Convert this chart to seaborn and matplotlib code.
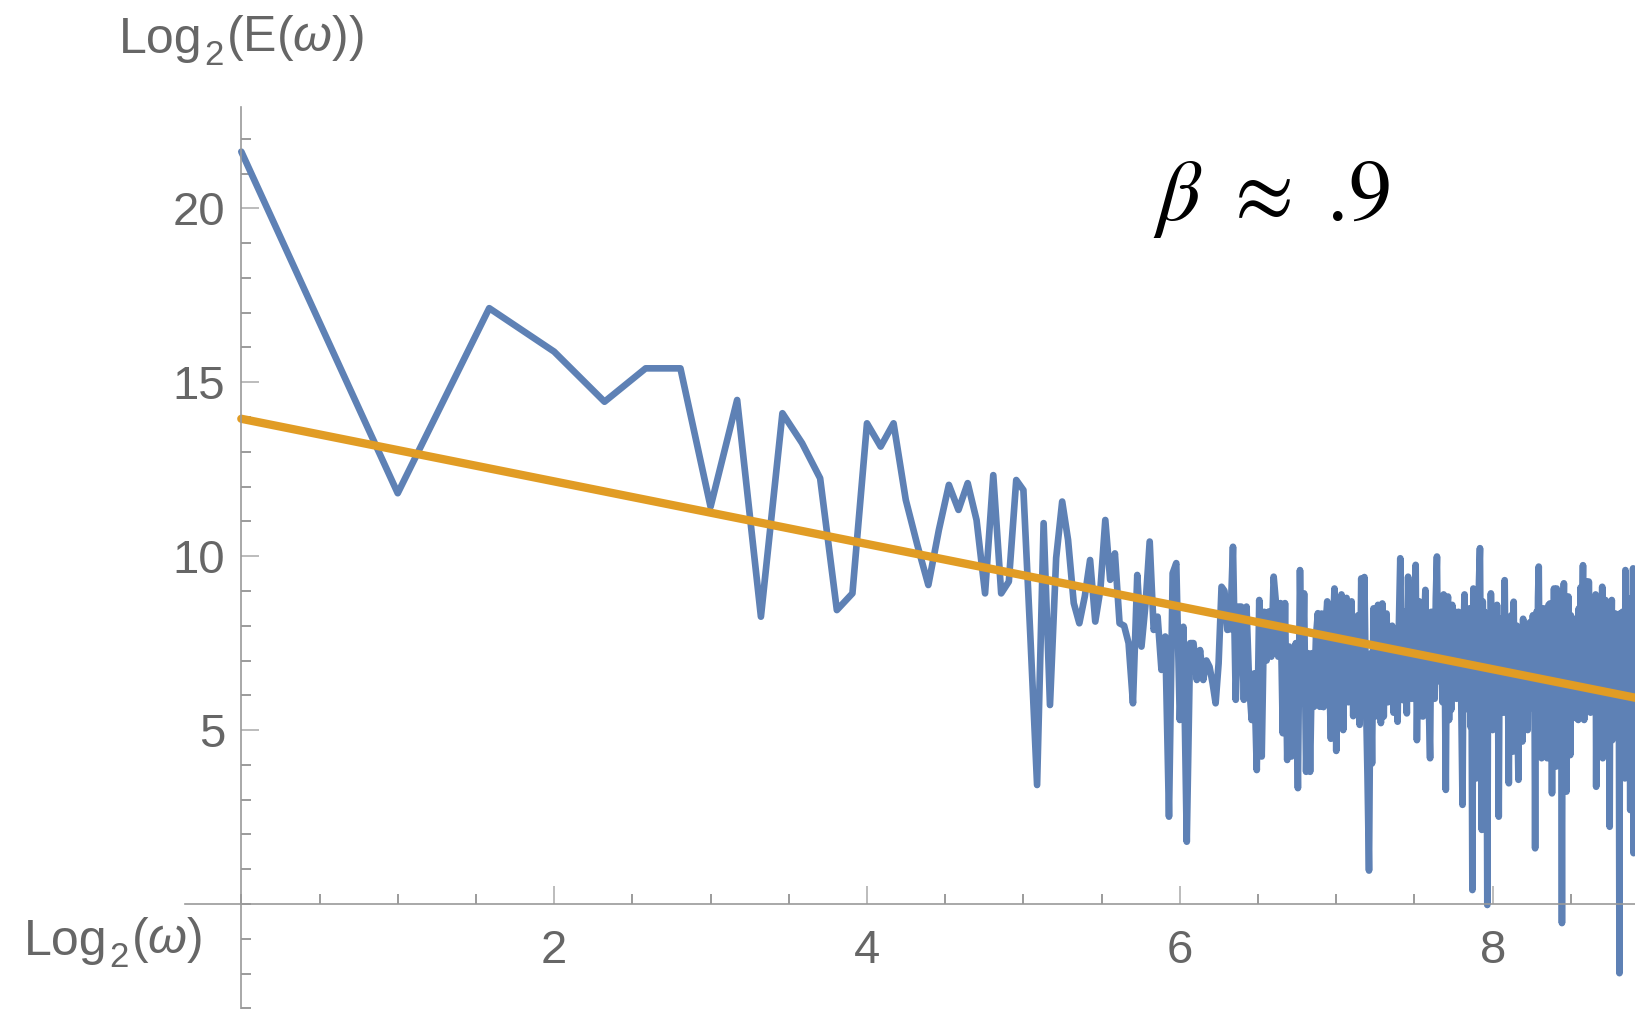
import numpy as np
import pandas as pd
import matplotlib
matplotlib.use("Agg")
import matplotlib.pyplot as plt
from matplotlib.ticker import FixedLocator, MultipleLocator
import seaborn as sns

# log2 of the spectral energy E(omega), omega = 1, 2, 3, ...
log2_energy = [
    21.63, 11.81, 17.13, 15.88, 14.44, 15.40, 15.40, 11.42, 14.49, 8.26,
    14.11, 13.25, 12.24, 8.45, 8.93, 13.82, 13.15, 13.82, 11.62, 10.32,
    9.17, 10.75, 12.05, 11.33, 12.10, 11.04, 8.93, 12.33, 8.93, 9.27,
    12.19, 11.90, 7.70, 3.42, 10.95, 5.72, 9.95, 11.57, 10.47, 8.65,
    8.07, 8.84, 9.89, 8.12, 9.03, 11.04, 9.32, 10.08, 8.07, 8.00,
    7.50, 5.77, 9.46, 7.40, 8.65, 10.42, 7.88, 8.26, 6.73, 7.69,
    2.51, 9.51, 9.80, 5.29, 7.97, 1.79, 7.50, 7.50, 6.44, 7.30,
    6.44, 7.00, 6.82, 6.35, 5.77, 6.92, 9.12, 9.00, 7.88, 7.90,
    10.27, 5.87, 8.55, 8.55, 5.87, 8.55, 6.35, 5.29, 6.63, 3.85,
    8.74, 4.24, 8.40, 7.00, 8.41, 7.11, 9.41, 8.65, 7.11, 8.65,
    4.91, 8.65, 4.14, 7.40, 4.24, 6.92, 7.50, 3.33, 9.60, 5.77,
    8.93, 3.80, 7.21, 3.80, 7.21, 5.67, 7.69, 8.36, 5.67,
    # omega 120..
    8.35, 5.66, 7.90, 8.70, 6.80, 4.75, 7.60, 9.07, 4.40, 8.20,
    6.10, 8.90, 5.00, 7.40, 8.80, 5.80, 6.90, 8.70, 5.40, 7.80,
    6.40, 8.30, 5.15, 9.36, 7.10, 9.40, 6.00, 3.71, 0.96, 7.20,
    4.04, 8.50, 6.60, 5.40, 8.60, 7.00, 5.20, 8.64, 5.39, 8.20,
    8.35, 5.80, 7.60, 6.50, 8.00, 5.50, 7.90, 6.40, 5.24, 8.10,
    9.94, 6.80, 5.86, 8.40, 7.20, 5.48, 9.41, 6.60, 8.30, 5.90,
    7.50, 8.50, 9.75, 4.71, 7.30, 8.70, 6.10, 5.40, 5.39, 8.02,
    9.03, 6.30, 7.70, 5.60, 4.19, 8.40, 6.90, 7.80, 5.90, 8.80,
    9.99, 6.50, 8.20, 6.39, 7.40, 5.80, 8.90, 6.90, 3.28, 8.30,
    8.84, 5.29, 7.50, 5.58, 8.60, 6.60, 7.30, 8.40, 5.90, 7.00,
    8.40, 6.20, 7.60, 5.30, 2.85, 7.80, 8.90, 5.60, 7.20, 7.87,
    6.00, 8.50, 5.10, 7.40, 0.40, 9.07, 6.70, 8.00, 3.61, 8.30,
    7.70, 9.30, 10.23, 5.90, 2.13, 8.70, 6.40, 8.40, 5.20, 7.90,
    -0.03, 8.10, 6.80, 5.60, 8.93, 7.30, 5.00, 8.40, 6.50, 7.80,
    5.90, 8.60, 6.80, 2.51, 7.40, 5.77, 8.20, 6.10, 7.90, 5.50,
    9.31, 6.70, 5.60, 8.00, 6.30, 3.47, 7.60, 5.40, 8.30, 6.20,
    4.38, 8.69, 5.90, 7.20, 6.40, 8.00, 5.00, 3.57, 7.50, 6.00,
    7.83, 5.80, 4.67, 8.20, 6.60, 7.40, 5.50, 7.87, 6.10, 5.00,
    7.90, 6.30, 8.10, 5.70, 7.00, 6.50, 8.30, 5.62, 7.20, 1.60,
    7.60, 8.40, 6.00, 8.80, 9.70, 6.90, 5.62, 8.00, 4.19, 7.40,
    6.20, 8.50, 5.40, 7.70, 6.60, 8.02, 4.19, 7.10, 8.60, 5.80,
    8.64, 6.50, 7.30, 3.18, 7.90, 5.90, 9.07, 6.30, 8.10, 3.95,
    9.07, 6.80, 5.30, 8.20, 7.00, 5.80, 8.60, 6.10, -0.55, 7.40,
    8.00, 9.22, 6.20, 5.00, 7.20, 3.23, 7.60, 6.00, 8.84, 5.50,
    7.60, 4.28, 8.30, 6.70, 7.40, 5.34, 8.00, 6.30, 7.70, 5.90,
    8.20, 6.40, 5.34, 7.80, 5.29, 8.50, 6.90, 7.30, 9.10, 6.00,
    7.50, 8.40, 9.74, 6.60, 5.29, 8.00, 7.10, 5.62, 9.27, 6.40,
    7.80, 5.62, 9.27, 6.90, 8.10, 5.50, 7.30, 8.60, 6.20, 7.00,
    8.30, 5.90, 7.60, 6.50, 8.90, 3.37, 7.20, 6.00, 8.40, 5.60,
    7.90, 6.70, 8.50, 4.71, 7.30, 6.10, 9.12, 4.19, 8.00, 6.40,
    7.70, 4.76, 8.74, 6.00, 7.20, 5.60, 8.30, 6.80, 7.50, 5.40,
    2.22, 8.00, 6.40, 7.60, 8.74, 4.71, 7.10, 6.20, 8.20, 5.70,
    7.40, 8.35, 6.00, 7.90, 5.30, 8.10, 6.70, 7.00, 5.50, -1.99,
    8.35, 6.50, 3.61, 7.80, 5.90, 8.40, 6.30, 7.50, 5.20, 8.00,
    3.61, 9.60, 6.80, 7.30, 5.70, 8.60, 6.10, 7.80, 5.00, 8.30,
    6.40, 2.70, 7.90, 6.20, 8.80, 5.60, 7.20, 9.65, 1.46, 7.60,
    6.00, 8.10, 5.50,
]

# power-law fit in log-log space (slope = -beta)
fit_intercept = 13.95
fit_slope = -0.90

x_ticks = [2, 4, 6, 8]
y_ticks = [5, 10, 15, 20]

blue = "#5E81B5"
orange = "#E19C24"
gray_text = "#666666"

omega = np.arange(1, len(log2_energy) + 1)
df = pd.DataFrame({"log2_omega": np.log2(omega), "log2_E": log2_energy})
df["fit"] = fit_intercept + fit_slope * df["log2_omega"]

sns.set_style("white")
plt.rcParams["font.family"] = ["Liberation Sans", "DejaVu Sans"]
plt.rcParams["mathtext.fontset"] = "custom"
plt.rcParams["mathtext.rm"] = "Liberation Sans"
plt.rcParams["mathtext.it"] = "Liberation Sans:italic"

fig = plt.figure(figsize=(16.35, 10.09), dpi=100)
ax = fig.add_axes([185 / 1635, 0.0, 1450 / 1635, 901.5 / 1009])

sns.lineplot(data=df, x="log2_omega", y="log2_E", color=blue, lw=4.8,
             ax=ax, sort=False, estimator=None)
sns.lineplot(data=df, x="log2_omega", y="fit", color=orange, lw=6.0,
             ax=ax, sort=False, estimator=None)

ax.set_xlim(-0.36, 8.91)
ax.set_ylim(-3.02, 22.9)

# Mathematica-style axes through the origin
for side in ["top", "right"]:
    ax.spines[side].set_visible(False)
ax.spines["left"].set_position(("data", 0))
ax.spines["bottom"].set_position(("data", 0))
for side in ["left", "bottom"]:
    ax.spines[side].set_color("#9a9a9a")
    ax.spines[side].set_linewidth(1.2)

ax.xaxis.set_major_locator(FixedLocator(x_ticks))
ax.xaxis.set_minor_locator(MultipleLocator(0.5))
ax.yaxis.set_major_locator(FixedLocator(y_ticks))
ax.yaxis.set_minor_locator(MultipleLocator(1))
ax.tick_params(which="both", direction="in", bottom=True, left=True,
               labelsize=34, labelcolor=gray_text)
ax.tick_params(which="major", length=13, width=1.1, color="#aaaaaa")
ax.tick_params(which="minor", length=7.5, width=1.1, color="#808080")
ax.tick_params(axis="x", which="major", pad=18)
ax.tick_params(axis="y", which="major", pad=11.5)
ax.set_xlabel("")
ax.set_ylabel("")


def log2_label(x_px, y_px, rest):
    """'Log' + lowered subscript 2 + rest, Mathematica style."""
    t1 = fig.text(x_px / 1635, 1 - y_px / 1009, "Log", fontsize=36,
                  color=gray_text, ha="left", va="baseline")
    t2 = ax.annotate("2", xy=(1, 0), xycoords=t1, xytext=(1.5, -1.5),
                     textcoords="offset points", fontsize=25,
                     color=gray_text, ha="left", va="baseline",
                     annotation_clip=False)
    ax.annotate(rest, xy=(1, 0), xycoords=(t2, t1), xytext=(1.5, 0),
                textcoords="offset points", fontsize=36, color=gray_text,
                ha="left", va="bottom", annotation_clip=False)


log2_label(119, 53, r"(E($\omega$))")
log2_label(24, 955, r"($\omega$)")

ax.text((1153 - 241) / 156.4, (904 - 220) / 34.78, r"$\beta$ $\approx$ .9",
        fontsize=62, color="black", ha="left", va="baseline",
        family="STIXGeneral", math_fontfamily="stix")

plt.savefig("out.png", dpi=100)
plt.close()
